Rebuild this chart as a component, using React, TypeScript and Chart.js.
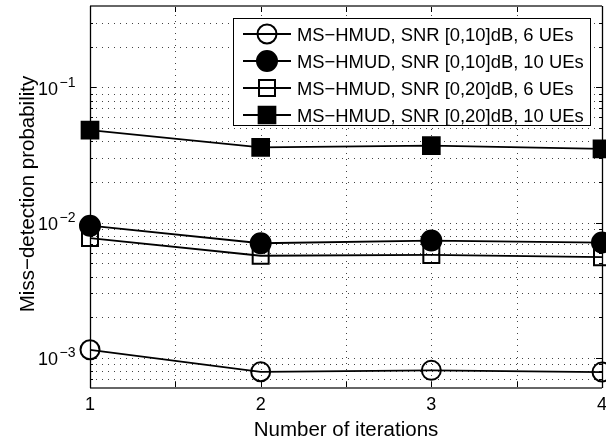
import React, { useEffect, useRef } from "react";
import { Chart, registerables } from "chart.js";

Chart.register(...registerables);

// Iterations of the multi-stage detector
const iterations = [1, 2, 3, 4];

// Miss-detection probability per iteration
const missSnr10Ue6 = [1.15e-3, 7.9e-4, 8.1e-4, 7.87e-4];
const missSnr10Ue10 = [9.5e-3, 7.05e-3, 7.38e-3, 7.13e-3];
const missSnr20Ue6 = [7.7e-3, 5.7e-3, 5.78e-3, 5.56e-3];
const missSnr20Ue10 = [0.0484, 0.0361, 0.0371, 0.0351];

const seriesLabels = [
  "MS−HMUD, SNR [0,10]dB, 6 UEs",
  "MS−HMUD, SNR [0,10]dB, 10 UEs",
  "MS−HMUD, SNR [0,20]dB, 6 UEs",
  "MS−HMUD, SNR [0,20]dB, 10 UEs",
];

const xTickLabels = ["1", "2", "3", "4"];
const yDecades = [-3, -2, -1];
const xGridValues = [1.5, 2, 2.5, 3, 3.5];

const X_MIN = 1;
const X_MAX = 4;
const Y_MIN = 6e-4;
const Y_MAX = 0.4;

const xTitle = "Number of iterations";
const yTitle = "Miss−detection probability";

const FONT = '"Liberation Sans", Arial, Helvetica, sans-serif';

type Marker = { style: "circle" | "rect"; radius: number; filled: boolean };

const markers: Marker[] = [
  { style: "circle", radius: 9.5, filled: false },
  { style: "circle", radius: 10, filled: true },
  { style: "rect", radius: 11.3, filled: false },
  { style: "rect", radius: 11.8, filled: true },
];

const seriesValues = [missSnr10Ue6, missSnr10Ue10, missSnr20Ue6, missSnr20Ue10];

function drawMarker(ctx: CanvasRenderingContext2D, m: Marker, x: number, y: number) {
  ctx.beginPath();
  if (m.style === "circle") {
    ctx.arc(x, y, m.radius, 0, Math.PI * 2);
  } else {
    const h = m.radius * Math.SQRT1_2;
    ctx.rect(x - h, y - h, 2 * h, 2 * h);
  }
  if (m.filled) {
    ctx.fillStyle = "#000";
    ctx.fill();
  }
  ctx.lineWidth = 2;
  ctx.strokeStyle = "#000";
  ctx.stroke();
}

function logGridValues(): { v: number; major: boolean }[] {
  const out: { v: number; major: boolean }[] = [];
  for (let d = -4; d <= -1; d++) {
    for (let m = 1; m <= 9; m++) {
      const v = Number((m * Math.pow(10, d)).toPrecision(6));
      if (v > Y_MIN * 1.0001 && v < Y_MAX * 0.9999) out.push({ v, major: m === 1 });
    }
  }
  return out;
}

// Axes frame, dotted grid, tick marks and labels
const framePlugin = {
  id: "frame",
  beforeDatasetsDraw(chart: any) {
    const { ctx, chartArea: a, scales } = chart;
    const x = scales.x;
    const y = scales.y;
    ctx.save();

    // dotted grid
    ctx.strokeStyle = "#444";
    ctx.lineWidth = 1;
    ctx.setLineDash([1, 5]);
    for (const v of xGridValues) {
      const px = Math.round(x.getPixelForValue(v)) + 0.5;
      ctx.beginPath();
      ctx.moveTo(px, a.bottom);
      ctx.lineTo(px, a.top);
      ctx.stroke();
    }
    const yVals = logGridValues();
    for (const { v } of yVals) {
      const py = Math.round(y.getPixelForValue(v)) + 0.5;
      ctx.beginPath();
      ctx.moveTo(a.left, py);
      ctx.lineTo(a.right, py);
      ctx.stroke();
    }
    ctx.setLineDash([]);

    // tick marks
    ctx.strokeStyle = "#000";
    ctx.lineWidth = 1;
    for (const { v, major } of yVals) {
      const py = Math.round(y.getPixelForValue(v)) + 0.5;
      const len = major ? 6 : 3;
      ctx.beginPath();
      ctx.moveTo(a.left, py);
      ctx.lineTo(a.left + len, py);
      ctx.moveTo(a.right, py);
      ctx.lineTo(a.right - len, py);
      ctx.stroke();
    }
    for (const v of xGridValues) {
      const px = Math.round(x.getPixelForValue(v)) + 0.5;
      ctx.beginPath();
      ctx.moveTo(px, a.bottom);
      ctx.lineTo(px, a.bottom - 6);
      ctx.moveTo(px, a.top);
      ctx.lineTo(px, a.top + 6);
      ctx.stroke();
    }

    // frame
    ctx.strokeStyle = "#666";
    ctx.lineWidth = 2;
    ctx.beginPath();
    ctx.moveTo(a.left, a.top);
    ctx.lineTo(a.right, a.top);
    ctx.moveTo(a.left, a.bottom);
    ctx.lineTo(a.right, a.bottom);
    ctx.stroke();
    ctx.strokeStyle = "#000";
    ctx.lineWidth = 1.3;
    ctx.beginPath();
    ctx.moveTo(a.left + 0.5, a.top);
    ctx.lineTo(a.left + 0.5, a.bottom);
    ctx.moveTo(a.right + 0.5, a.top);
    ctx.lineTo(a.right + 0.5, a.bottom);
    ctx.stroke();

    // x tick labels
    ctx.fillStyle = "#000";
    ctx.font = `18px ${FONT}`;
    ctx.textAlign = "center";
    ctx.textBaseline = "alphabetic";
    xTickLabels.forEach((t, i) => {
      ctx.fillText(t, x.getPixelForValue(iterations[i]), 410);
    });

    // y tick labels: 10 with exponent
    for (const d of yDecades) {
      const py = y.getPixelForValue(Math.pow(10, d));
      ctx.font = `18px ${FONT}`;
      ctx.textAlign = "right";
      ctx.fillText("10", 58, py + 7.5);
      ctx.font = `14px ${FONT}`;
      ctx.textAlign = "left";
      ctx.fillText("−" + String(-d), 59.5, py - 0.5);
    }

    // axis titles
    ctx.font = `20.5px ${FONT}`;
    ctx.textAlign = "center";
    ctx.fillText(xTitle, (a.left + a.right) / 2, 436);
    ctx.save();
    ctx.translate(34, 194);
    ctx.rotate(-Math.PI / 2);
    ctx.fillText(yTitle, 0, 0);
    ctx.restore();

    ctx.restore();
  },
  afterDatasetsDraw(chart: any) {
    const { ctx } = chart;
    ctx.save();
    const box = { left: 233.5, top: 18.5, right: 590.5, bottom: 125.5 };
    ctx.fillStyle = "#fff";
    ctx.fillRect(box.left, box.top, box.right - box.left, box.bottom - box.top);
    ctx.strokeStyle = "#000";
    ctx.lineWidth = 1;
    ctx.strokeRect(box.left, box.top, box.right - box.left, box.bottom - box.top);
    const rows = [34, 61, 88, 115];
    seriesLabels.forEach((label, i) => {
      const ry = rows[i];
      ctx.strokeStyle = "#000";
      ctx.lineWidth = 1.8;
      ctx.beginPath();
      ctx.moveTo(243, ry);
      ctx.lineTo(291, ry);
      ctx.stroke();
      drawMarker(ctx, markers[i], 267, ry);
      ctx.fillStyle = "#000";
      ctx.font = `18.4px ${FONT}`;
      ctx.textAlign = "left";
      ctx.textBaseline = "alphabetic";
      ctx.fillText(label, 297, ry + 6.5);
    });
    ctx.restore();
  },
};

export default function App() {
  const canvasRef = useRef<HTMLCanvasElement | null>(null);

  useEffect(() => {
    const canvas = canvasRef.current;
    if (!canvas) return;
    const chart = new Chart(canvas, {
      type: "line",
      data: {
        datasets: seriesValues.map((vals, i) => ({
          label: seriesLabels[i],
          data: vals.map((v, k) => ({ x: iterations[k], y: v })),
          borderColor: "#000",
          borderWidth: 1.8,
          pointStyle: markers[i].style,
          pointRadius: markers[i].radius,
          pointBorderWidth: 2,
          pointBorderColor: "#000",
          pointBackgroundColor: markers[i].filled ? "#000" : "rgba(0,0,0,0)",
          fill: false,
          tension: 0,
          clip: false as any,
        })),
      },
      options: {
        responsive: false,
        devicePixelRatio: 1,
        animation: false,
        events: [],
        layout: { autoPadding: false, padding: { left: 90, top: 6, right: 4, bottom: 54 } },
        scales: {
          x: { type: "linear", min: X_MIN, max: X_MAX, display: false },
          y: { type: "logarithmic", min: Y_MIN, max: Y_MAX, display: false },
        },
        plugins: {
          legend: { display: false },
          tooltip: { enabled: false },
        },
      },
      plugins: [framePlugin],
    });
    return () => chart.destroy();
  }, []);

  return (
    <div style={{ position: "absolute", left: 0, top: 0, width: 606, height: 442, background: "#fff" }}>
      <canvas ref={canvasRef} width={606} height={442} />
    </div>
  );
}
